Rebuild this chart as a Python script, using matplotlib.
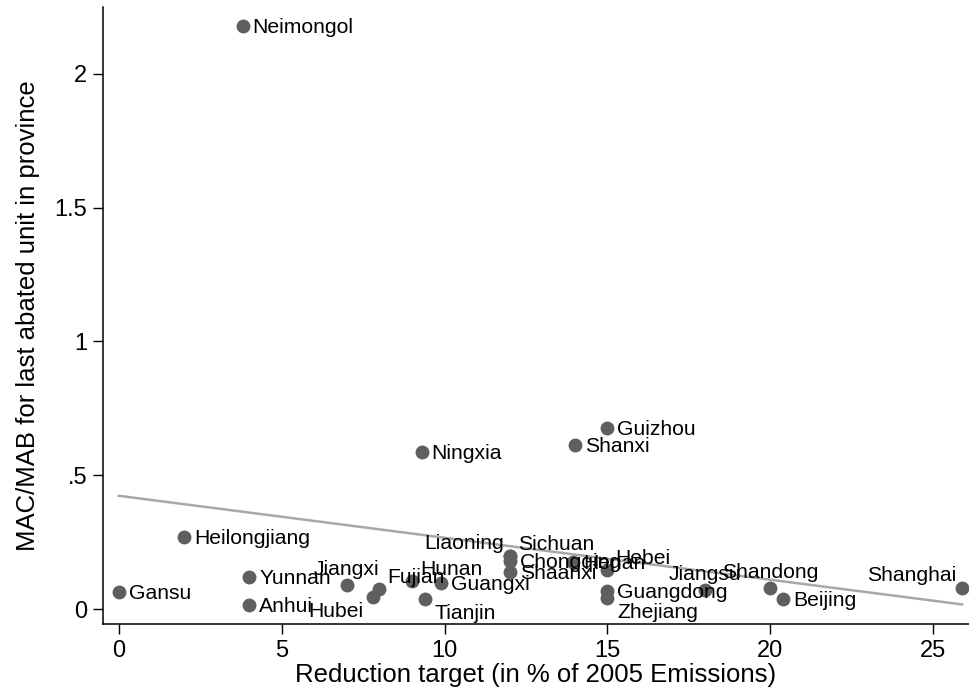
import numpy as np
import matplotlib.pyplot as plt

plt.rcParams['font.family'] = ['Liberation Sans', 'DejaVu Sans']

# provinces, reduction targets (% of 2005 emissions) and MAC/MAB of last abated unit
provinces = ["Neimongol", "Guizhou", "Shanxi", "Ningxia", "Heilongjiang", "Gansu",
             "Yunnan", "Anhui", "Jiangxi", "Fujian", "Hubei", "Hunan", "Tianjin",
             "Guangxi", "Liaoning", "Sichuan", "Chongqing", "Shaanxi", "Henan",
             "Hebei", "Guangdong", "Zhejiang", "Jiangsu", "Shandong", "Beijing",
             "Shanghai"]
target = [3.8, 15.0, 14.0, 9.3, 2.0, 0.0,
          4.0, 4.0, 7.0, 8.0, 7.8, 9.0, 9.4,
          9.9, 12.0, 12.0, 12.0, 12.0, 13.95,
          15.0, 15.0, 15.0, 18.0, 20.0, 20.4,
          25.9]
mac = [2.18, 0.677, 0.613, 0.587, 0.269, 0.064,
       0.12, 0.015, 0.09, 0.075, 0.045, 0.105, 0.037,
       0.097, 0.20, 0.20, 0.18, 0.14, 0.176,
       0.146, 0.066, 0.040, 0.071, 0.078, 0.037,
       0.078]

# marker label positions, clock style (3 = right of the marker)
labpos = {"Jiangxi": 12, "Fujian": 1, "Hubei": 7, "Hunan": 1, "Tianjin": 4,
          "Liaoning": 11, "Sichuan": 1, "Hebei": 1, "Zhejiang": 4,
          "Jiangsu": 12, "Shandong": 12, "Shanghai": 11}
offsets = {3: (10, 0, "left"), 12: (0, 17, "center"), 1: (8, 13, "left"),
           11: (-6, 14, "right"), 4: (10, -13, "left"), 7: (-10, -13, "right")}

fig = plt.figure(figsize=(9.69, 6.97), dpi=100)
ax = fig.add_axes([103 / 969, 1 - 624 / 697, 1 - 103 / 969, (624 - 7) / 697])

# linear fit over the range of the data
b, a = np.polyfit(target, mac, 1)
xs = np.array([min(target), max(target)])
ax.plot(xs, a + b * xs, color="#a8a8a8", lw=1.8, zorder=1)

ax.plot(target, mac, "o", ms=10, color="#5f5f5f", mec="none", zorder=2)

for name, x, y in zip(provinces, target, mac):
    dx, dy, ha = offsets[labpos.get(name, 3)]
    ax.annotate(name, (x, y), xytext=(dx, dy - 7), textcoords="offset pixels",
                ha=ha, va="baseline", fontsize=15.2, color="black", zorder=3)

ax.set_xlim(-0.49, 26.11)
ax.set_ylim(-0.056, 2.25)
ax.set_xticks([0, 5, 10, 15, 20, 25])
ax.set_yticks([0, 0.5, 1, 1.5, 2])
ax.set_yticklabels(["0", ".5", "1", "1.5", "2"])
ax.tick_params(length=7.5, width=1, labelsize=17, colors="black")
ax.tick_params(axis="y", pad=4)
ax.tick_params(axis="x", pad=4)
for s in ["top", "right"]:
    ax.spines[s].set_visible(False)
for s in ["left", "bottom"]:
    ax.spines[s].set_linewidth(1.1)

ax.set_xlabel("Reduction target (in % of 2005 Emissions)", fontsize=18.5, labelpad=1)
ax.set_ylabel("MAC/MAB for last abated unit in province", fontsize=18.5, labelpad=10)

fig.savefig("out.png", dpi=100)
